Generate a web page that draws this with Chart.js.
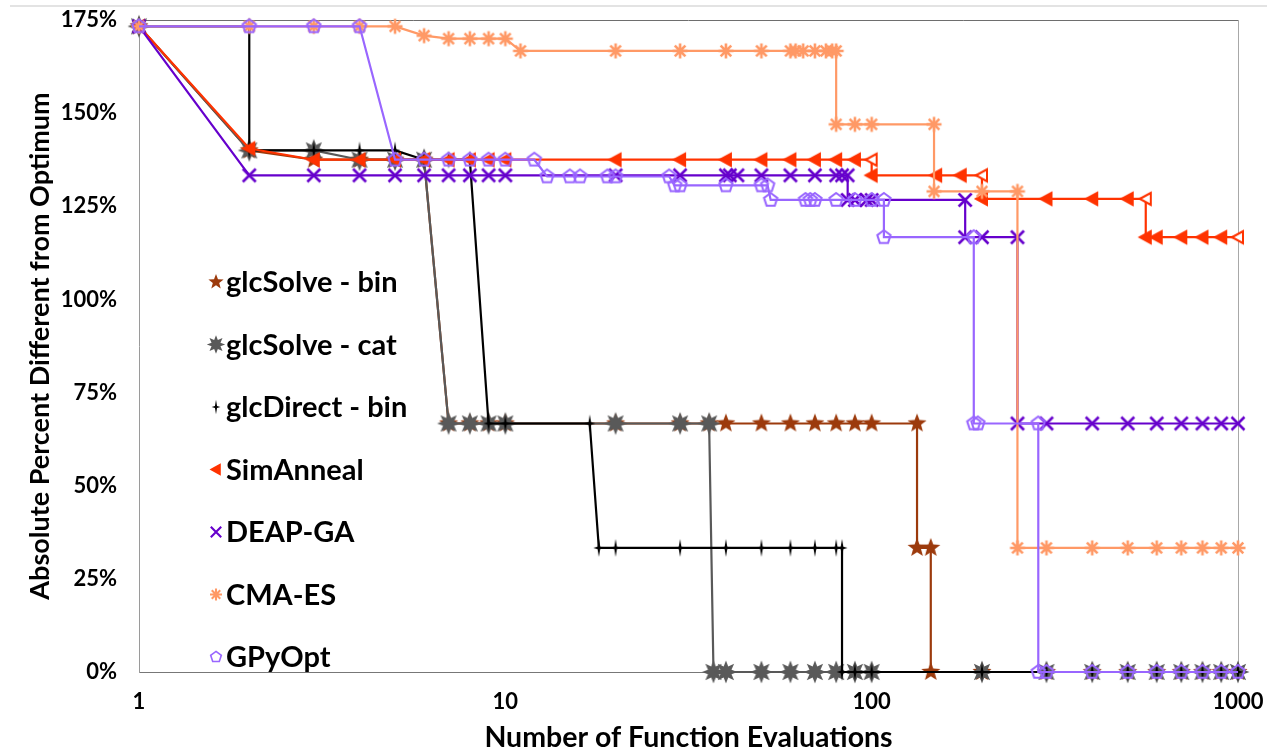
<!DOCTYPE html>
<html><head><meta charset="utf-8">
<script src="https://cdn.jsdelivr.net/npm/chart.js@4.4.0/dist/chart.umd.min.js"></script>
<style>
html,body{margin:0;padding:0;background:#fff;}
#wrap{position:relative;width:1273px;height:755px;overflow:hidden;}
#topline{position:absolute;left:10px;top:5px;width:1257px;height:2px;background:#e3e3e3;}
canvas{position:absolute;left:0;top:0;}
</style></head><body>
<div id="wrap"><div id="topline"></div><canvas id="c" width="1273" height="755"></canvas></div>
<script>
// ---------------- data ----------------
const seriesNames = ['glcSolve - bin','glcSolve - cat','glcDirect - bin','SimAnneal','DEAP-GA','CMA-ES','GPyOpt'];

const binX = [1,2,3,4,5,6,7,8,9,10,20,30,36,40,50,60,70,80,90,100,133,133,145,145,200,300,400,500,600,700,800,900,1000];
const binY = [173.3,140,137.5,137.5,137.5,137.5,66.7,66.7,66.7,66.7,66.7,66.7,66.7,66.7,66.7,66.7,66.7,66.7,66.7,66.7,66.7,33.3,33.3,0,0,0,0,0,0,0,0,0,0];

const catX = [1,2,3,4,5,6,7,8,9,10,20,30,36,37,40,50,60,70,80,90,100,200,300,400,500,600,700,800,900,1000];
const catY = [173.3,140,140,137.5,137.5,137.5,66.7,66.7,66.7,66.7,66.7,66.7,66.7,0,0,0,0,0,0,0,0,0,0,0,0,0,0,0,0,0];

const directX = [1,2,2,3,4,5,6,7,8,9,10,17,18,20,30,40,50,60,70,80,83,83,90,100,200,300,400,500,600,700,800,900,1000];
const directY = [173.3,173.3,140,140,140,140,137.5,137.5,137.5,66.7,66.7,66.7,33.3,33.3,33.3,33.3,33.3,33.3,33.3,33.3,33.3,0,0,0,0,0,0,0,0,0,0,0,0];

const annealX = [1,2,3,4,5,6,7,8,9,10,20,30,40,50,60,70,80,90,100,100,150,175,200,200,300,400,500,560,560,600,700,800,900,1000];
const annealY = [173.3,140.5,137.5,137.5,137.5,137.5,137.5,137.5,137.5,137.5,137.5,137.5,137.5,137.5,137.5,137.5,137.5,137.5,137.5,133.3,133.3,133.3,133.3,127,127,127,127,127,116.7,116.7,116.7,116.7,116.7,116.7];

const deapX = [1,2,3,4,5,6,7,8,9,10,20,30,40,41,43,50,60,70,80,83,86,86,90,97,100,180,180,200,250,250,300,400,500,600,700,800,900,1000];
const deapY = [173.3,133.3,133.3,133.3,133.3,133.3,133.3,133.3,133.3,133.3,133.3,133.3,133.3,133.3,133.3,133.3,133.3,133.3,133.3,133.3,133.3,126.7,126.7,126.7,126.7,126.7,116.7,116.7,116.7,66.7,66.7,66.7,66.7,66.7,66.7,66.7,66.7,66.7];

const cmaX = [1,2,3,4,5,6,7,8,9,10,11,20,30,40,50,60,62,65,70,75,78,80,80,90,100,148,148,200,250,250,300,400,500,600,700,800,900,1000];
const cmaY = [173.3,173.3,173.3,173.3,173.3,170.8,170,170,170,170,166.7,166.7,166.7,166.7,166.7,166.7,166.7,166.7,166.7,166.7,166.7,166.7,147,147,147,147,129,129,129,33.3,33.3,33.3,33.3,33.3,33.3,33.3,33.3,33.3];

const gpyX = [1,2,3,4,5,6,7,8,9,10,12,13,15,16,19,20,28,29,30,40,50,52,53,66,68,70,80,90,100,108,108,190,190,195,285,285,300,400,500,600,700,800,900,1000];
const gpyY = [173.3,173.3,173.3,173.3,137.5,137.5,137.5,137.5,137.5,137.5,137.5,133,133,133,133,133,133,130.6,130.6,130.6,130.6,130.6,126.7,126.7,126.7,126.7,126.7,126.7,126.7,126.7,116.7,116.7,66.7,66.7,66.7,0,0,0,0,0,0,0,0,0];

const xTickValues = [1,10,100,1000];
const yMin = 0, yMax = 175, yStep = 25;
const xTitle = 'Number of Function Evaluations';
const yTitle = 'Absolute Percent Different from Optimum';

// ---------------- styling ----------------
const seriesX = [binX,catX,directX,annealX,deapX,cmaX,gpyX];
const seriesY = [binY,catY,directY,annealY,deapY,cmaY,gpyY];
const colors = ['#9C3A0C','#595959','#000000','#FF3300','#6600CC','#FF9966','#9966FF'];
const kinds = ['star5','star8','star4','tri','x','ast','pent'];

function starPath(g,cx,cy,n,ro,ri){
  g.beginPath();
  for(let i=0;i<2*n;i++){
    const r=i%2?ri:ro, a=i*Math.PI/n;
    const px=cx+r*Math.sin(a), py=cy-r*Math.cos(a);
    if(i) g.lineTo(px,py); else g.moveTo(px,py);
  }
  g.closePath();
}
function drawMarker(g,kind,cx,cy,s,color,hollow){
  g.save();
  g.fillStyle=color; g.strokeStyle=color; g.lineJoin='miter';
  if(kind==='star5'){ starPath(g,cx,cy,5,10*s,4.2*s); g.fill(); }
  else if(kind==='star8'){ starPath(g,cx,cy,8,11.5*s,6*s); g.fill(); }
  else if(kind==='star4'){
    const v=9*s,h=5.5*s,r=1.3*s;
    g.beginPath(); g.moveTo(cx,cy-v); g.lineTo(cx+r,cy-r); g.lineTo(cx+h,cy); g.lineTo(cx+r,cy+r);
    g.lineTo(cx,cy+v); g.lineTo(cx-r,cy+r); g.lineTo(cx-h,cy); g.lineTo(cx-r,cy-r); g.closePath(); g.fill();
  }
  else if(kind==='tri'){
    g.beginPath(); g.moveTo(cx-6*s,cy); g.lineTo(cx+5*s,cy-6*s); g.lineTo(cx+5*s,cy+6*s); g.closePath();
    g.lineWidth=2*s;
    if(hollow){ g.fillStyle='#fff'; g.fill(); g.stroke(); } else { g.fill(); g.stroke(); }
  }
  else if(kind==='x'){
    const r=6.5*s; g.lineWidth=2.6*s; g.beginPath();
    g.moveTo(cx-r,cy-r); g.lineTo(cx+r,cy+r); g.moveTo(cx+r,cy-r); g.lineTo(cx-r,cy+r); g.stroke();
  }
  else if(kind==='ast'){
    const r=7.5*s; g.lineWidth=2.6*s; g.beginPath();
    for(let k=0;k<4;k++){ const a=k*Math.PI/4; g.moveTo(cx-r*Math.cos(a),cy-r*Math.sin(a)); g.lineTo(cx+r*Math.cos(a),cy+r*Math.sin(a)); }
    g.stroke();
  }
  else if(kind==='pent'){
    g.lineWidth=2*s; g.beginPath();
    for(let i=0;i<5;i++){ const a=i*2*Math.PI/5; const px=cx+7*s*Math.sin(a), py=cy-7*s*Math.cos(a); if(i) g.lineTo(px,py); else g.moveTo(px,py);} 
    g.closePath(); g.stroke();
  }
  g.restore();
}
function markerCanvas(kind,color,hollow){
  const c=document.createElement('canvas'); c.width=28; c.height=28;
  drawMarker(c.getContext('2d'),kind,14,14,1,color,hollow);
  return c;
}

const datasets = seriesNames.map((name,i)=>{
  const filled = markerCanvas(kinds[i],colors[i],false);
  const hollowC = markerCanvas(kinds[i],colors[i],true);
  return {
    label:name,
    data: seriesX[i].map((x,k)=>({x:x,y:seriesY[i][k]})),
    borderColor: colors[i],
    backgroundColor: colors[i],
    borderWidth: 2.2,
    tension: 0,
    fill: false,
    clip: false,
    order: seriesNames.length-1-i,
    pointStyle: kinds[i]==='tri' ? (ctx)=>{
      const d=ctx.dataset.data, k=ctx.dataIndex;
      if(k===d.length-1 || (d[k+1] && d[k+1].x===d[k].x)) return hollowC;
      return filled;
    } : filled,
    pointRadius: 8,
    pointHoverRadius: 8
  };
});

const frame = {
  id:'frame',
  beforeDatasetsDraw(chart){
    const {ctx,chartArea:a}=chart; ctx.save(); ctx.lineWidth=1;
    ctx.strokeStyle='#6e6e6e'; ctx.beginPath(); ctx.moveTo(a.left,a.top+0.5); ctx.lineTo(a.right,a.top+0.5); ctx.stroke();
    ctx.strokeStyle='#a8a8a8'; ctx.beginPath(); ctx.moveTo(a.right+0.5,a.top); ctx.lineTo(a.right+0.5,a.bottom); ctx.stroke();
    ctx.restore();
  }
};
const innerLegend = {
  id:'innerLegend',
  afterDraw(chart){
    const {ctx,chartArea:a}=chart; ctx.save();
    ctx.font='bold 29px Lato'; ctx.textBaseline='middle'; ctx.textAlign='left'; ctx.fillStyle='#000';
    const x0=a.left+77, y0=a.top+262, dy=62.5;
    seriesNames.forEach((name,i)=>{
      const y=y0+i*dy;
      drawMarker(ctx,kinds[i],x0,y,0.8,colors[i],false);
      ctx.fillText(name,x0+10,y+1);
    });
    ctx.restore();
  }
};

const tickFont = {family:'Lato',size:22,weight:'bold'};
const xTitleFont = {family:'Lato',size:28.5,weight:'bold'};
const yTitleFont = {family:'Lato',size:27,weight:'bold'};

new Chart(document.getElementById('c'),{
  type:'line',
  data:{datasets},
  options:{
    responsive:false, animation:false, devicePixelRatio:1,
    layout:{padding:{top:20,right:35,left:0,bottom:0}},
    plugins:{legend:{display:false},tooltip:{enabled:false}},
    scales:{
      x:{type:'logarithmic',min:1,max:1000,
        afterBuildTicks:s=>{s.ticks=xTickValues.map(v=>({value:v}));},
        ticks:{callback:v=>String(v),font:tickFont,color:'#000',padding:17,maxRotation:0,autoSkip:false},
        grid:{display:false,drawTicks:false},
        border:{color:'#777',width:1},
        title:{display:true,text:xTitle,font:xTitleFont,color:'#000',padding:{top:0,bottom:0}},
        afterFit:s=>{s.height=83; s.paddingLeft=0; s.paddingRight=0;}
      },
      y:{type:'linear',min:yMin,max:yMax,
        ticks:{stepSize:yStep,callback:v=>v+'%',font:tickFont,color:'#000',padding:22},
        grid:{display:false,drawTicks:false},
        border:{color:'#9a9a9a',width:1},
        title:{display:true,text:yTitle,font:yTitleFont,color:'#000',padding:{top:24,bottom:0}},
        afterFit:s=>{s.width=139; s.paddingTop=0; s.paddingBottom=0;}
      }
    }
  },
  plugins:[frame,innerLegend]
});
</script>
</body></html>
